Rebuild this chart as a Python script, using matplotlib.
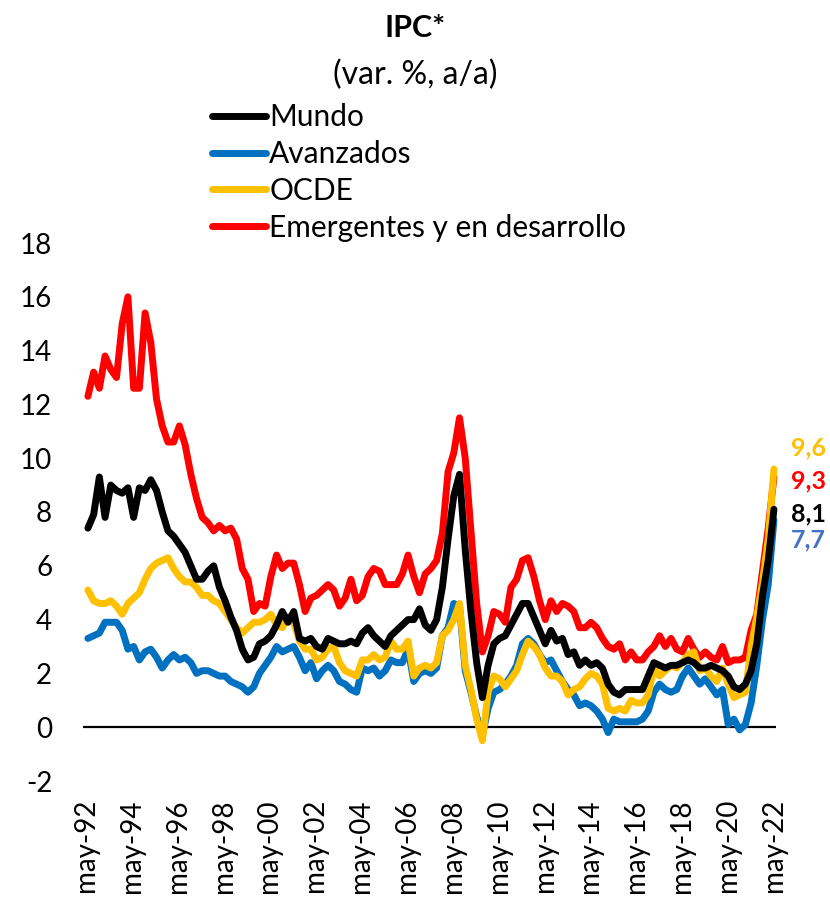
import matplotlib
matplotlib.use("Agg")
import matplotlib.pyplot as plt
import numpy as np

plt.rcParams["font.family"] = ["Lato", "DejaVu Sans"]
plt.rcParams["axes.unicode_minus"] = False

# quarterly readings, jul-92 .. may-22 (months since may-92)
months = np.linspace(1, 360, 121)

mundo = [7.4, 7.9, 9.3, 7.8, 9.0, 8.8, 8.7, 8.9, 7.8, 8.9, 8.8, 9.2, 8.8, 8.0, 7.3, 7.1,
         6.8, 6.5, 6.0, 5.5, 5.5, 5.8, 6.0, 5.2, 4.7, 4.1, 3.6, 2.9, 2.5, 2.6, 3.1, 3.2,
         3.4, 3.8, 4.3, 3.9, 4.3, 3.3, 3.2, 3.3, 3.0, 2.9, 3.3, 3.2, 3.1, 3.1, 3.2, 3.1,
         3.5, 3.7, 3.4, 3.2, 3.0, 3.4, 3.6, 3.8, 4.0, 4.0, 4.4, 3.8, 3.6, 4.0, 5.2, 7.0,
         8.6, 9.4, 6.6, 4.3, 2.4, 1.1, 2.3, 3.1, 3.3, 3.4, 3.8, 4.2, 4.6, 4.6, 4.1, 3.6,
         3.1, 3.6, 3.2, 3.3, 2.7, 2.8, 2.3, 2.5, 2.3, 2.4, 2.2, 1.6, 1.3, 1.2, 1.4, 1.4,
         1.4, 1.4, 1.9, 2.4, 2.3, 2.2, 2.3, 2.3, 2.4, 2.5, 2.4, 2.2, 2.2, 2.3, 2.2, 2.1,
         1.9, 1.5, 1.4, 1.6, 2.1, 3.1, 4.9, 6.2, 8.1]

avanzados = [3.3, 3.4, 3.5, 3.9, 3.9, 3.9, 3.6, 2.9, 3.0, 2.5, 2.8, 2.9, 2.6, 2.2, 2.5, 2.7,
             2.5, 2.6, 2.4, 2.0, 2.1, 2.1, 2.0, 1.9, 1.9, 1.7, 1.6, 1.5, 1.3, 1.5, 2.0, 2.3,
             2.6, 3.0, 2.8, 2.9, 3.0, 2.6, 2.1, 2.4, 1.8, 2.1, 2.3, 2.1, 1.7, 1.6, 1.4, 1.3,
             2.2, 2.1, 2.2, 1.9, 2.1, 2.5, 2.4, 2.4, 2.9, 1.7, 2.0, 2.1, 2.0, 2.2, 3.4, 3.7,
             4.6, 4.5, 2.1, 1.3, 0.4, -0.3, 0.7, 1.3, 1.4, 1.6, 1.9, 2.3, 3.1, 3.3, 3.1, 2.7,
             2.4, 2.5, 2.1, 1.7, 1.4, 1.2, 0.8, 0.9, 0.8, 0.6, 0.3, -0.2, 0.3, 0.2, 0.2, 0.2,
             0.2, 0.3, 0.6, 1.3, 1.6, 1.4, 1.3, 1.4, 1.9, 2.2, 1.9, 1.6, 1.8, 1.5, 1.2, 1.4,
             0.1, 0.3, -0.1, 0.1, 0.9, 2.3, 4.0, 5.3, 7.7]

ocde = [5.1, 4.7, 4.6, 4.6, 4.7, 4.5, 4.2, 4.6, 4.8, 5.0, 5.5, 5.9, 6.1, 6.2, 6.3, 5.9,
        5.6, 5.4, 5.4, 5.2, 4.9, 4.9, 4.7, 4.6, 4.3, 4.0, 3.7, 3.5, 3.7, 3.9, 3.9, 4.0,
        4.2, 3.8, 3.7, 4.1, 3.9, 3.2, 2.9, 2.9, 2.5, 2.6, 2.9, 3.0, 2.4, 2.1, 2.0, 1.9,
        2.5, 2.5, 2.7, 2.5, 2.6, 3.2, 2.9, 2.9, 3.2, 1.9, 2.2, 2.3, 2.2, 2.4, 3.4, 3.6,
        4.0, 4.6, 2.3, 1.4, 0.3, -0.5, 1.3, 1.9, 1.8, 1.5, 1.8, 2.1, 2.7, 3.2, 3.0, 2.7,
        2.2, 1.9, 1.9, 1.7, 1.2, 1.4, 1.5, 1.8, 2.0, 1.9, 1.6, 0.7, 0.6, 0.7, 0.6, 1.0,
        0.9, 0.9, 1.2, 2.2, 1.9, 2.1, 2.3, 2.2, 2.4, 2.7, 2.8, 2.1, 2.2, 1.9, 1.7, 2.2,
        1.6, 1.1, 1.2, 1.3, 3.0, 4.1, 5.4, 7.0, 9.6]

emergentes = [12.3, 13.2, 12.6, 13.8, 13.3, 13.0, 15.0, 16.0, 12.6, 12.6, 15.4, 14.3, 12.2, 11.2, 10.6, 10.6,
              11.2, 10.5, 9.4, 8.5, 7.8, 7.6, 7.3, 7.5, 7.3, 7.4, 7.0, 5.9, 5.5, 4.3, 4.6, 4.5,
              5.6, 6.4, 5.9, 6.1, 6.1, 5.3, 4.3, 4.8, 4.9, 5.1, 5.3, 5.1, 4.5, 4.8, 5.5, 4.7,
              4.9, 5.6, 5.9, 5.8, 5.3, 5.3, 5.3, 5.7, 6.4, 5.6, 5.0, 5.7, 5.9, 6.2, 7.2, 9.5,
              10.2, 11.5, 10.0, 7.3, 4.6, 2.8, 3.4, 4.3, 4.2, 3.9, 5.2, 5.5, 6.2, 6.3, 5.6, 4.7,
              4.0, 4.7, 4.3, 4.6, 4.5, 4.3, 3.7, 3.7, 3.9, 3.7, 3.3, 3.0, 2.9, 3.1, 2.5, 2.8,
              2.5, 2.5, 2.8, 3.0, 3.4, 3.0, 3.3, 2.9, 2.8, 3.3, 2.9, 2.6, 2.8, 2.6, 2.5, 3.0,
              2.4, 2.5, 2.5, 2.6, 3.6, 4.2, 5.8, 7.4, 9.3]

series = [("Mundo", mundo, "#000000"),
          ("Avanzados", avanzados, "#0070C0"),
          ("OCDE", ocde, "#FFC000"),
          ("Emergentes y en desarrollo", emergentes, "#FF0000")]

tick_months = np.arange(0, 361, 24)
tick_labels = ["may-%02d" % ((92 + i * 2) % 100) for i in range(len(tick_months))]

end_labels = ["9,6", "9,3", "8,1", "7,7"]
end_colors = ["#FFC000", "#FF0000", "#000000", "#4472C4"]
end_ypos = [10.4, 9.15, 7.92, 6.95]

fig = plt.figure(figsize=(8.30, 8.98), dpi=100)
ax = fig.add_axes([80 / 830, 117 / 898, 710 / 830, 538 / 898])

# draw order as in the original: emergentes behind, mundo on top
for name, vals, col in [series[3], series[1], series[2], series[0]]:
    ax.plot(months, vals, color=col, lw=5.0, solid_joinstyle="round",
            solid_capstyle="round", label=name)

ax.hlines(0, -1.5, 361, color="black", lw=1.6, zorder=0.5)

ax.set_xlim(-3.14, 368.4)
ax.set_ylim(-2, 18)
ax.set_yticks(np.arange(-2, 19, 2))
ax.set_xticks(tick_months)
ax.set_xticklabels(tick_labels, rotation=90)
ax.tick_params(axis="y", length=0, pad=20, labelsize=20)
ax.tick_params(axis="x", length=0, pad=13, labelsize=20)
for s in ax.spines.values():
    s.set_visible(False)
ax.patch.set_alpha(0)

for txt, col, yv in zip(end_labels, end_colors, end_ypos):
    ax.text(369, yv, txt, color=col, fontsize=18, fontweight="bold",
            va="center", ha="left", clip_on=False)

fig.text(0.5, 1 - 28 / 898, "IPC*", ha="center", va="center",
         fontsize=22, fontweight="bold")
fig.text(0.5, 1 - 75 / 898, "(var. %, a/a)", ha="center", va="center",
         fontsize=23)

handles, labels = ax.get_legend_handles_labels()
order = [labels.index(s[0]) for s in series]
leg = fig.legend([handles[i] for i in order], [labels[i] for i in order],
                 loc="upper left", bbox_to_anchor=(212 / 830, 1 - 103 / 898),
                 frameon=False, fontsize=21.5, handlelength=1.8,
                 handletextpad=0.12, labelspacing=0.3, borderpad=0,
                 borderaxespad=0)

fig.savefig("out.png", dpi=100)
